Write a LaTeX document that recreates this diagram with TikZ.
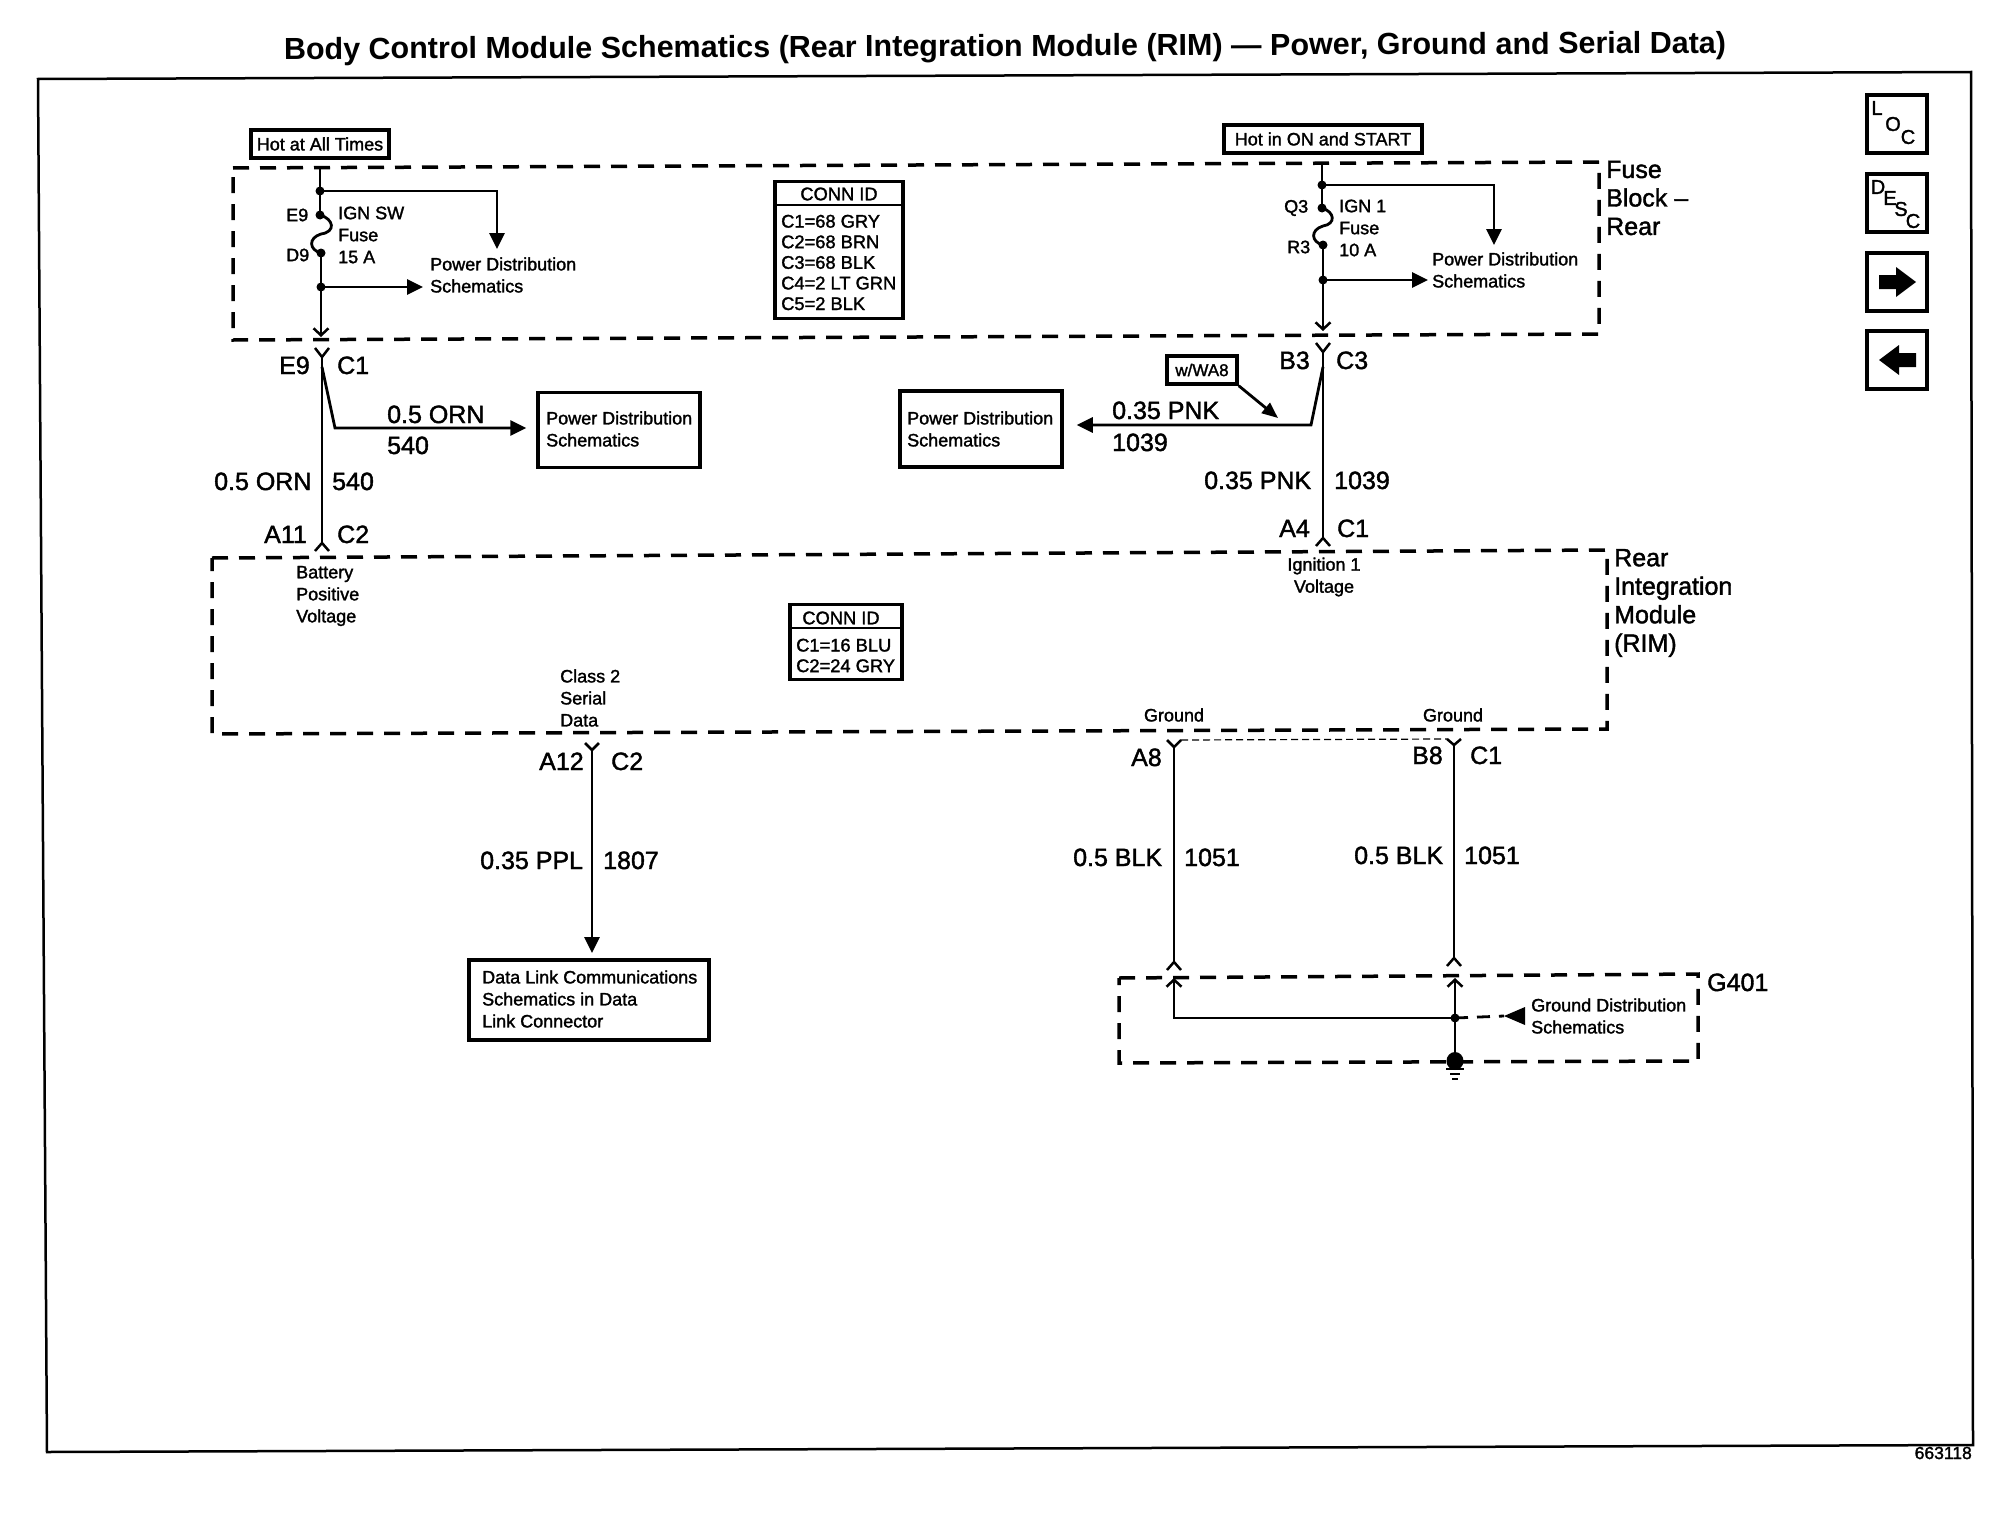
\documentclass[tikz,border=0pt]{standalone}
\usepackage{fontspec}
\setmainfont{Liberation Sans}
\newfontfamily\sch[FakeBold=1.6]{Liberation Sans}
\usetikzlibrary{arrows.meta}
\tikzset{
  lab/.style={font=\sch\fontsize{25}{25}\selectfont,inner sep=0pt,text height=18pt,text depth=0pt,anchor=west},
  big/.style={font=\sch\fontsize{25}{28.5}\selectfont,inner sep=0pt,align=left,anchor=west},
  sm/.style={font=\sch\fontsize{18}{22}\selectfont,inner sep=0pt,align=left,anchor=west},
  smc/.style={font=\sch\fontsize{18}{22}\selectfont,inner sep=0pt,align=center,anchor=center},
  rows/.style={font=\sch\fontsize{18.3}{20.6}\selectfont,inner sep=0pt,align=left,anchor=west},
  hdr/.style={font=\sch\fontsize{18.3}{20}\selectfont,inner sep=0pt,anchor=center},
  boxn/.style={draw,line width=3.5pt,inner sep=0pt},
  dashbox/.style={draw,line width=3.5pt,dash pattern=on 16pt off 11pt},
  wire/.style={line width=2.8pt},
  tip/.style={wire,-{Triangle[length=16pt,width=15pt]}},
  chev/.style={wire,-{Straight Barb[length=7pt,width=15pt,line width=2.5pt]}},
  iconl/.style={font=\sch\fontsize{20}{20}\selectfont,inner sep=0pt,anchor=center},
}
\newcommand{\Yfork}[3]{% x, arm-end y, join y
  \draw[wire,line width=2.5pt] (#1-7,#2) -- (#1,#3) -- (#1+7,#2);}
\begin{document}
\begin{tikzpicture}[x=1pt,y=-1pt]
\useasboundingbox (0,0) rectangle (2006,1520);
\fill[white] (0,0) rectangle (2006,1520);
% title and frame
\node[font=\bfseries\fontsize{30.5}{32}\selectfont,inner sep=0pt,rotate=0.25] (title) at (1005,48.5) {Body Control Module Schematics (Rear Integration Module (RIM) — Power, Ground and Serial Data)};
\draw[line width=2.5pt] (38,79) -- (1971,72) -- (1973,1445) -- (47,1452) -- cycle;
\node[font=\sch\fontsize{17.5}{17.5}\selectfont,inner sep=0pt,anchor=east] (num) at (1972,1453) {663118};
% icons
\node[boxn,minimum width=60pt,minimum height=58pt] (loc) at (1897,124) {};
\node[iconl] (locL) at (1877,108) {L};
\node[iconl] (locO) at (1893,124) {O};
\node[iconl] (locC) at (1908,137) {C};
\node[boxn,minimum width=60pt,minimum height=58pt] (desc) at (1897,203) {};
\node[iconl] (descD) at (1878,187) {D};
\node[iconl] (descE) at (1890,198) {E};
\node[iconl] (descS) at (1901,209) {S};
\node[iconl] (descC) at (1913,221) {C};
\node[boxn,minimum width=60pt,minimum height=58pt] (next) at (1897,282) {};
\fill (1879,275) -- (1896,275) -- (1896,267) -- (1916,282) -- (1896,297) -- (1896,289) -- (1879,289) -- cycle;
\node[boxn,minimum width=60pt,minimum height=58pt] (prev) at (1897,360) {};
\fill (1916,353) -- (1899,353) -- (1899,345) -- (1879,360) -- (1899,375) -- (1899,367) -- (1916,367) -- cycle;
% dashed module outlines
\draw[dashbox] (233,168) -- (1599,162) -- (1599,334) -- (233,340) -- cycle;
\draw[dashbox] (212,558) -- (1607,550) -- (1607,729) -- (212,734) -- cycle;
\draw[dashbox] (1119,978) -- (1698,974) -- (1698,1061) -- (1119,1063) -- cycle;
% power source boxes
\node[boxn,font=\sch\fontsize{18}{18}\selectfont,minimum width=138pt,minimum height=28pt] (hot) at (320,144) {Hot at All Times};
\node[boxn,font=\sch\fontsize{18}{18}\selectfont,minimum width=198pt,minimum height=28pt] (hoton) at (1323,139) {Hot in ON and START};
% left feed
\coordinate (la) at (320,167);
\coordinate (lj1) at (320,191);
\coordinate (lc1) at (497,191);
\coordinate (lt1) at (497,249);
\coordinate (le9) at (320,215);
\coordinate (ld9) at (321,253);
\coordinate (lj2) at (321,287);
\coordinate (lt2) at (423,287);
\coordinate (lb) at (321,337);
\draw[wire] (la) -- (le9);
\draw[wire] (le9) .. controls (334,219) and (336,232) .. (321,234) .. controls (308,238) and (309,250) .. (ld9);
\draw[wire] (ld9) -- (lj2);
\fill (lj1) circle (4.5pt) (le9) circle (4.5pt) (ld9) circle (4.5pt) (lj2) circle (4.5pt);
\draw[tip] (lj1) -- (lc1) -- (lt1);
\draw[tip] (lj2) -- (lt2);
\draw[chev] (lj2) -- (lb);
\node[sm] (e9s) at (286,215) {E9};
\node[sm] (d9s) at (286,255) {D9};
\node[sm] (ign) at (338,235) {IGN SW\\Fuse\\15 A};
\node[sm] (pd1) at (430,275) {Power Distribution\\Schematics};
% left wire C1 to C2
\Yfork{322}{348}{357}
\coordinate (lw1) at (322,357);
\coordinate (lw2) at (322,543);
\draw[wire] (lw1) -- (lw2);
\Yfork{322}{551}{543}
\coordinate (lbr1) at (322,367);
\coordinate (lbr2) at (335,428);
\node[boxn,minimum width=162pt,minimum height=75pt] (pdb1) at (619,430) {};
\node[sm] (pdb1t) at (546,429) {Power Distribution\\Schematics};
\draw[tip] (lbr1) -- (lbr2) -- ([xshift=-10pt]pdb1.west |- lbr2);
\node[lab] (l05a) at (387,414) {0.5 ORN};
\node[lab] (l540a) at (387,445) {540};
\node[lab] (l05b) at (214,481) {0.5 ORN};
\node[lab] (l540b) at (332,481) {540};
\node[lab] (le9l) at (279,365) {E9};
\node[lab] (lc1l) at (337,365) {C1};
\node[lab] (la11) at (264,534) {A11};
\node[lab] (lc2l) at (337,534) {C2};
% right feed
\coordinate (ra) at (1322,163);
\coordinate (rj1) at (1322,185);
\coordinate (rc1) at (1494,185);
\coordinate (rt1) at (1494,245);
\coordinate (rq3) at (1322,208);
\coordinate (rr3) at (1323,245);
\coordinate (rj2) at (1323,280);
\coordinate (rt2) at (1428,280);
\coordinate (rb) at (1323,331);
\draw[wire] (ra) -- (rq3);
\draw[wire] (rq3) .. controls (1335,212) and (1336,224) .. (1323,226) .. controls (1310,230) and (1311,242) .. (rr3);
\draw[wire] (rr3) -- (rj2);
\fill (rj1) circle (4.5pt) (rq3) circle (4.5pt) (rr3) circle (4.5pt) (rj2) circle (4.5pt);
\draw[tip] (rj1) -- (rc1) -- (rt1);
\draw[tip] (rj2) -- (rt2);
\draw[chev] (rj2) -- (rb);
\node[sm] (q3s) at (1284,208) {Q3};
\node[sm] (r3s) at (1287,247) {R3};
\node[sm] (ign1) at (1339,228) {IGN 1\\Fuse\\10 A};
\node[sm] (pd2) at (1432,270) {Power Distribution\\Schematics};
\node[big] (fbr) at (1606,198) {Fuse\\Block –\\Rear};
% right wire C3 to C1
\Yfork{1323}{343}{352}
\coordinate (rw1) at (1323,352);
\coordinate (rw2) at (1323,538);
\draw[wire] (rw1) -- (rw2);
\Yfork{1323}{546}{538}
\coordinate (rbr1) at (1323,367);
\coordinate (rbr2) at (1311,425);
\node[boxn,minimum width=162pt,minimum height=76pt] (pdb2) at (981,429) {};
\node[sm] (pdb2t) at (907,429) {Power Distribution\\Schematics};
\draw[tip] (rbr1) -- (rbr2) -- ([xshift=13pt]pdb2.east |- rbr2);
\node[boxn,font=\sch\fontsize{17}{17}\selectfont,minimum width=70pt,minimum height=28pt] (wa8) at (1202,370) {w/WA8};
\coordinate (wa8t) at (1278,418);
\draw[wire,-{Triangle[length=16pt,width=13pt]}] (wa8.south east) -- (wa8t);
\node[lab] (r035a) at (1112,410) {0.35 PNK};
\node[lab] (r1039a) at (1112,442) {1039};
\node[lab] (r035b) at (1204,480) {0.35 PNK};
\node[lab] (r1039b) at (1334,480) {1039};
\node[lab] (rb3) at (1279,360) {B3};
\node[lab] (rc3) at (1336,360) {C3};
\node[lab] (ra4) at (1279,528) {A4};
\node[lab] (rc1l) at (1337,528) {C1};
% RIM
\node[sm] (bat) at (296,596) {Battery\\Positive\\Voltage};
\node[smc] (ignv) at (1324,577) {Ignition 1\\Voltage};
\node[big] (rim) at (1614,603) {Rear\\Integration\\Module\\(RIM)};
\node[sm] (cls) at (560,698) {Class 2\\Serial\\Data};
\node[smc] (g1) at (1174,715) {Ground};
\node[smc] (g2) at (1453,715) {Ground};
% conn id tables
\node[boxn,minimum width=128pt,minimum height=137pt] (cid1) at (839,250) {};
\draw[line width=2.5pt] (cid1.west |- 0,205) -- (cid1.east |- 0,205);
\node[hdr] (cid1h) at (839,194) {CONN ID};
\node[rows] (cid1r) at (781,262.5) {C1=68 GRY\\C2=68 BRN\\C3=68 BLK\\C4=2 LT GRN\\C5=2 BLK};
\node[boxn,minimum width=112pt,minimum height=75pt] (cid2) at (846,642) {};
\draw[line width=2.5pt] (cid2.west |- 0,628) -- (cid2.east |- 0,628);
\node[hdr] (cid2h) at (841,618) {CONN ID};
\node[rows] (cid2r) at (796,655.5) {C1=16 BLU\\C2=24 GRY};
% class 2 data
\Yfork{592}{743}{750}
\node[boxn,minimum width=240pt,minimum height=80pt] (dlc) at (589,1000) {};
\node[sm] (dlct) at (482,999) {Data Link Communications\\Schematics in Data\\Link Connector};
\coordinate (dw1) at (592,750);
\coordinate (dw2) at (592,953);
\draw[tip] (dw1) -- (dw2);
\node[lab] (a12) at (539,761) {A12};
\node[lab] (dc2) at (611,761) {C2};
\node[lab] (d035) at (480,860) {0.35 PPL};
\node[lab] (d1807) at (603,860) {1807};
% grounds
\Yfork{1174}{740}{747}
\Yfork{1454}{739}{745}
\coordinate (ga1) at (1181,740);
\coordinate (gb1) at (1447,739);
\draw[line width=1.2pt,dash pattern=on 7pt off 4pt] (ga1) -- (gb1);
\coordinate (ga2) at (1174,747);
\coordinate (ga3) at (1174,962);
\coordinate (gb2) at (1454,745);
\coordinate (gb3) at (1454,958);
\draw[wire] (ga2) -- (ga3);
\draw[wire] (gb2) -- (gb3);
\Yfork{1174}{970}{962}
\Yfork{1454}{966}{958}
\node[lab] (a8) at (1131,757) {A8};
\node[lab] (b8) at (1412,755) {B8};
\node[lab] (gc1) at (1470,755) {C1};
\node[lab] (gl1) at (1073,857) {0.5 BLK};
\node[lab] (gn1) at (1184,857) {1051};
\node[lab] (gl2) at (1354,855) {0.5 BLK};
\node[lab] (gn2) at (1464,855) {1051};
\node[lab] (g401) at (1707,982) {G401};
\coordinate (gj) at (1455,1018);
\coordinate (gc) at (1174,1018);
\coordinate (gt1) at (1174,978);
\coordinate (gt2) at (1455,978);
\coordinate (gd) at (1455,1061);
\draw[chev] (gj) -- (gc) -- (gt1);
\draw[chev] (gd) -- (gt2);
\fill (gj) circle (4.5pt);
\fill (gd) ellipse (8.5pt and 9pt);
\draw[line width=2pt] (1446,1069) -- (1464,1069) (1450,1074) -- (1460,1074) (1452,1079) -- (1458,1079);
\coordinate (gtip) at (1504,1016);
\draw[wire,dash pattern=on 13pt off 9pt] (gj) -- (gtip);
\fill (gtip) -- (1525,1007) -- (1525,1025) -- cycle;
\node[sm] (gds) at (1531,1016) {Ground Distribution\\Schematics};
\end{tikzpicture}
\end{document}
